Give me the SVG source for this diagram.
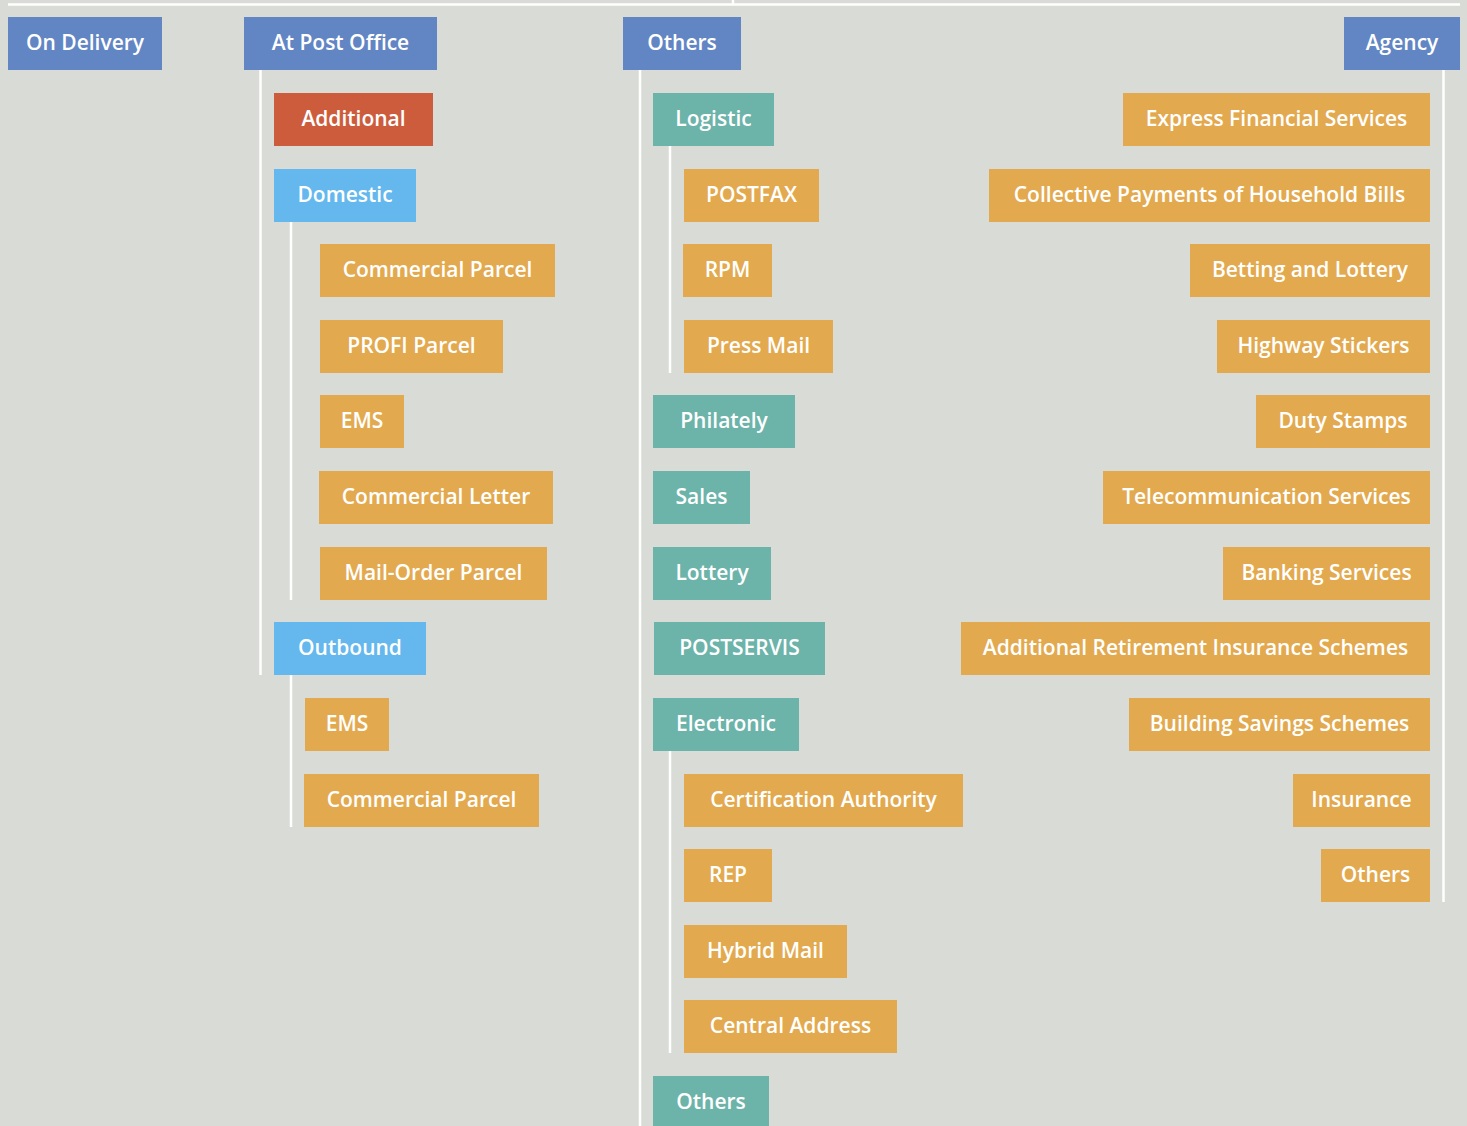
<svg xmlns="http://www.w3.org/2000/svg" width="1467" height="1126" viewBox="0 0 1467 1126">
<style>
.bg{fill:#D9DBD6}
.c line{stroke:#FFFFFF;stroke-width:2.5}
.h rect{fill:#6285C3}
.o rect{fill:#E3A94E}
.t rect{fill:#6CB3AA}
.l rect{fill:#64B8EE}
.r rect{fill:#CD5C3C}
text{fill:#FFFFFF;font-family:"Open Sans","Noto Sans","Liberation Sans",sans-serif;font-weight:600;font-size:21px;text-anchor:middle}
</style>
<rect class="bg" x="0" y="0" width="1467" height="1126"/>
<g id="connectors" class="c">
<line x1="8" y1="4.5" x2="1460" y2="4.5"/>
<line x1="733" y1="0" x2="733" y2="4.5"/>
<line x1="260.5" y1="70" x2="260.5" y2="675"/>
<line x1="291" y1="222" x2="291" y2="600"/>
<line x1="291" y1="675" x2="291" y2="827"/>
<line x1="640" y1="70" x2="640" y2="1126"/>
<line x1="670" y1="146" x2="670" y2="373"/>
<line x1="670" y1="751" x2="670" y2="1053"/>
<line x1="1443.5" y1="70" x2="1443.5" y2="902"/>
</g>
<g id="n-ondelivery" class="h"><rect x="8" y="17" width="154" height="53"/><text x="85" y="50">On Delivery</text></g>
<g id="n-atpost" class="h"><rect x="244" y="17" width="193" height="53"/><text x="340.5" y="50">At Post Office</text></g>
<g id="n-others" class="h"><rect x="623" y="17" width="118" height="53"/><text x="682" y="50">Others</text></g>
<g id="n-agency" class="h"><rect x="1344" y="17" width="116" height="53"/><text x="1402" y="50">Agency</text></g>

<g id="n-additional" class="r"><rect x="274" y="93" width="159" height="53"/><text x="353.5" y="126">Additional</text></g>
<g id="n-domestic" class="l"><rect x="274" y="169" width="142" height="53"/><text x="345" y="202">Domestic</text></g>
<g id="n-d-commparcel" class="o"><rect x="320" y="244" width="235" height="53"/><text x="437.5" y="277">Commercial Parcel</text></g>
<g id="n-d-profi" class="o"><rect x="320" y="320" width="183" height="53"/><text x="411.5" y="353">PROFI Parcel</text></g>
<g id="n-d-ems" class="o"><rect x="320" y="395" width="84" height="53"/><text x="362" y="428">EMS</text></g>
<g id="n-d-commletter" class="o"><rect x="319" y="471" width="234" height="53"/><text x="436" y="504">Commercial Letter</text></g>
<g id="n-d-mailorder" class="o"><rect x="320" y="547" width="227" height="53"/><text x="433.5" y="580">Mail-Order Parcel</text></g>
<g id="n-outbound" class="l"><rect x="274" y="622" width="152" height="53"/><text x="350" y="655">Outbound</text></g>
<g id="n-o-ems" class="o"><rect x="305" y="698" width="84" height="53"/><text x="347" y="731">EMS</text></g>
<g id="n-o-commparcel" class="o"><rect x="304" y="774" width="235" height="53"/><text x="421.5" y="807">Commercial Parcel</text></g>

<g id="n-logistic" class="t"><rect x="653" y="93" width="121" height="53"/><text x="713.5" y="126">Logistic</text></g>
<g id="n-postfax" class="o"><rect x="684" y="169" width="135" height="53"/><text x="751.5" y="202">POSTFAX</text></g>
<g id="n-rpm" class="o"><rect x="683" y="244" width="89" height="53"/><text x="727.5" y="277">RPM</text></g>
<g id="n-pressmail" class="o"><rect x="684" y="320" width="149" height="53"/><text x="758.5" y="353">Press Mail</text></g>
<g id="n-philately" class="t"><rect x="653" y="395" width="142" height="53"/><text x="724" y="428">Philately</text></g>
<g id="n-sales" class="t"><rect x="653" y="471" width="97" height="53"/><text x="701.5" y="504">Sales</text></g>
<g id="n-lottery" class="t"><rect x="653" y="547" width="118" height="53"/><text x="712" y="580">Lottery</text></g>
<g id="n-postservis" class="t"><rect x="654" y="622" width="171" height="53"/><text x="739.5" y="655">POSTSERVIS</text></g>
<g id="n-electronic" class="t"><rect x="653" y="698" width="146" height="53"/><text x="726" y="731">Electronic</text></g>
<g id="n-certauth" class="o"><rect x="684" y="774" width="279" height="53"/><text x="823.5" y="807">Certification Authority</text></g>
<g id="n-rep" class="o"><rect x="684" y="849" width="88" height="53"/><text x="728" y="882">REP</text></g>
<g id="n-hybrid" class="o"><rect x="684" y="925" width="163" height="53"/><text x="765.5" y="958">Hybrid Mail</text></g>
<g id="n-central" class="o"><rect x="684" y="1000" width="213" height="53"/><text x="790.5" y="1033">Central Address</text></g>
<g id="n-others2" class="t"><rect x="653" y="1076" width="116" height="53"/><text x="711" y="1109">Others</text></g>

<g id="n-express" class="o"><rect x="1123" y="93" width="307" height="53"/><text x="1276.5" y="126">Express Financial Services</text></g>
<g id="n-collective" class="o"><rect x="989" y="169" width="441" height="53"/><text x="1209.5" y="202">Collective Payments of Household Bills</text></g>
<g id="n-betting" class="o"><rect x="1190" y="244" width="240" height="53"/><text x="1310" y="277">Betting and Lottery</text></g>
<g id="n-highway" class="o"><rect x="1217" y="320" width="213" height="53"/><text x="1323.5" y="353">Highway Stickers</text></g>
<g id="n-duty" class="o"><rect x="1256" y="395" width="174" height="53"/><text x="1343" y="428">Duty Stamps</text></g>
<g id="n-telecom" class="o"><rect x="1103" y="471" width="327" height="53"/><text x="1266.5" y="504">Telecommunication Services</text></g>
<g id="n-banking" class="o"><rect x="1223" y="547" width="207" height="53"/><text x="1326.5" y="580">Banking Services</text></g>
<g id="n-retirement" class="o"><rect x="961" y="622" width="469" height="53"/><text x="1195.5" y="655">Additional Retirement Insurance Schemes</text></g>
<g id="n-building" class="o"><rect x="1129" y="698" width="301" height="53"/><text x="1279.5" y="731">Building Savings Schemes</text></g>
<g id="n-insurance" class="o"><rect x="1293" y="774" width="137" height="53"/><text x="1361.5" y="807">Insurance</text></g>
<g id="n-others3" class="o"><rect x="1321" y="849" width="109" height="53"/><text x="1375.5" y="882">Others</text></g>
</svg>
